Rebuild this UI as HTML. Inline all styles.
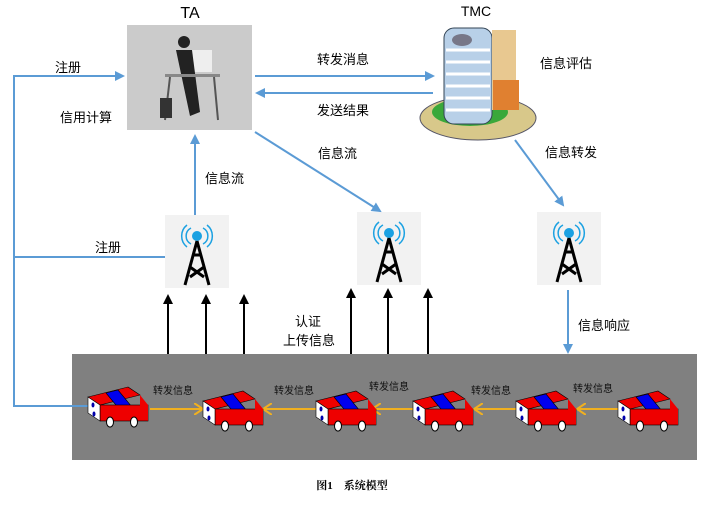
<!DOCTYPE html>
<html><head><meta charset="utf-8"><style>
body{margin:0;background:#fff;width:717px;height:518px;overflow:hidden;font-family:"Liberation Sans","Noto Sans CJK SC",sans-serif}
</style></head><body>
<svg width="717" height="518" viewBox="0 0 717 518" xmlns="http://www.w3.org/2000/svg" font-family="Liberation Sans, Noto Sans CJK SC, sans-serif">
<defs>
<marker id="b" markerWidth="10" markerHeight="10" refX="8" refY="5" orient="auto" markerUnits="userSpaceOnUse"><path d="M0,0 L10,5 L0,10 Z" fill="#5b9bd5"/></marker>
<marker id="k" markerWidth="10" markerHeight="10" refX="8" refY="5" orient="auto" markerUnits="userSpaceOnUse"><path d="M0,0 L10,5 L0,10 Z" fill="#000"/></marker>
<marker id="o" markerWidth="10" markerHeight="12" refX="9" refY="6" orient="auto" markerUnits="userSpaceOnUse"><path d="M0,0 L9,6 L0,12" fill="none" stroke="#f0b020" stroke-width="2"/></marker>
<g id="car">
<polygon points="0,10 40,0 52,8 12,18" fill="#e00" stroke="#000" stroke-width="0.6"/>
<polygon points="18,6 30,3 44,20 32,23" fill="#00e" stroke="#000" stroke-width="0.6"/>
<rect x="12" y="18" width="48" height="16" fill="#e00" stroke="#000" stroke-width="0.6"/>
<polygon points="52,8 60,18 60,34 52,24" fill="#e00"/>
<polygon points="0,10 12,18 12,34 0,26" fill="#fff" stroke="#000" stroke-width="0.6"/>
<ellipse cx="5" cy="18" rx="1.5" ry="2.5" fill="#00a"/><ellipse cx="6" cy="27" rx="1.5" ry="2.5" fill="#00a"/>
<ellipse cx="22" cy="35" rx="3.5" ry="5" fill="#fff" stroke="#000"/><ellipse cx="46" cy="35" rx="3.5" ry="5" fill="#fff" stroke="#000"/>
</g>
<g id="tw">
<rect x="0" y="0" width="64" height="73" fill="#f2f2f2"/>
<path d="M22,10 a14,14 0 0,0 0,22 M26,13 a9,9 0 0,0 0,16 M42,10 a14,14 0 0,1 0,22 M38,13 a9,9 0 0,1 0,16" fill="none" stroke="#1ba1e2" stroke-width="1.5"/>
<circle cx="32" cy="21" r="5" fill="#1ba1e2"/>
<path d="M32,26 L20,70 M32,26 L44,70 M25,52 L39,62 M39,52 L25,62 M28,40 L36,40" stroke="#000" stroke-width="3" fill="none"/>
</g>
</defs>
<!-- road -->
<rect x="72" y="354" width="625" height="106" fill="#808080"/>
<!-- TA -->
<text x="190" y="18" font-size="16" text-anchor="middle">TA</text>
<rect x="127" y="25" width="125" height="105" fill="#cbcbcb"/>
<rect x="192" y="50" width="20" height="22" fill="#eee"/>
<circle cx="184" cy="42" r="6" fill="#222"/>
<path d="M176,50 L192,50 L200,112 L190,116 Z" fill="#222"/>
<rect x="165" y="74" width="55" height="3" fill="#888"/>
<path d="M170,77 L165,120 M214,77 L218,120" stroke="#555" stroke-width="2"/>
<rect x="160" y="98" width="12" height="20" fill="#333"/>
<!-- TMC -->
<text x="476" y="16" font-size="14" text-anchor="middle">TMC</text>
<ellipse cx="478" cy="118" rx="58" ry="22" fill="#d8c88a" stroke="#556" />
<ellipse cx="470" cy="112" rx="38" ry="14" fill="#3aa83a"/>
<rect x="444" y="28" width="48" height="96" rx="10" fill="#b8d0e8" stroke="#345"/>
<g stroke="#fff" stroke-width="3"><line x1="446" y1="50" x2="490" y2="50"/><line x1="446" y1="62" x2="490" y2="62"/><line x1="446" y1="74" x2="490" y2="74"/><line x1="446" y1="86" x2="490" y2="86"/><line x1="446" y1="98" x2="490" y2="98"/><line x1="446" y1="110" x2="490" y2="110"/></g>
<rect x="492" y="30" width="24" height="80" fill="#e8c890"/>
<ellipse cx="462" cy="40" rx="10" ry="6" fill="#778"/>
<rect x="493" y="80" width="26" height="30" fill="#e08030"/>
<!-- top arrows -->
<line x1="255" y1="76" x2="433" y2="76" stroke="#5b9bd5" stroke-width="2" marker-end="url(#b)"/>
<line x1="433" y1="93" x2="257" y2="93" stroke="#5b9bd5" stroke-width="2" marker-end="url(#b)"/>
<text x="343" y="64" font-size="13" text-anchor="middle">转发消息</text>
<text x="343" y="115" font-size="13" text-anchor="middle">发送结果</text>
<text x="540" y="68" font-size="13">信息评估</text>
<!-- left lines -->
<polyline points="90,406 14,406 14,76 123,76" fill="none" stroke="#5b9bd5" stroke-width="2" marker-end="url(#b)"/>
<line x1="14" y1="257" x2="195" y2="257" stroke="#5b9bd5" stroke-width="2"/>
<text x="55" y="72" font-size="13">注册</text>
<text x="60" y="122" font-size="13">信用计算</text>
<text x="95" y="252" font-size="13">注册</text>
<!-- towers -->
<use href="#tw" x="165" y="215"/>
<use href="#tw" x="357" y="212"/>
<use href="#tw" x="537" y="212"/>
<line x1="195" y1="215" x2="195" y2="136" stroke="#5b9bd5" stroke-width="2" marker-end="url(#b)"/>
<text x="205" y="183" font-size="13">信息流</text>
<line x1="255" y1="132" x2="380" y2="211" stroke="#5b9bd5" stroke-width="2" marker-end="url(#b)"/>
<text x="318" y="158" font-size="13">信息流</text>
<line x1="515" y1="140" x2="563" y2="205" stroke="#5b9bd5" stroke-width="2" marker-end="url(#b)"/>
<text x="545" y="157" font-size="13">信息转发</text>
<line x1="568" y1="290" x2="568" y2="352" stroke="#5b9bd5" stroke-width="2" marker-end="url(#b)"/>
<text x="578" y="330" font-size="13">信息响应</text>
<!-- black arrows -->
<g stroke="#000" stroke-width="2" marker-end="url(#k)">
<line x1="168" y1="354" x2="168" y2="296"/><line x1="206" y1="354" x2="206" y2="296"/><line x1="244" y1="354" x2="244" y2="296"/>
<line x1="351" y1="354" x2="351" y2="290"/><line x1="388" y1="354" x2="388" y2="290"/><line x1="428" y1="354" x2="428" y2="290"/>
</g>
<text x="295" y="326" font-size="13">认证</text>
<text x="283" y="345" font-size="13">上传信息</text>
<!-- cars -->
<g stroke="#f0b020" stroke-width="2">
<line x1="150" y1="409" x2="203" y2="409" marker-end="url(#o)"/>
<line x1="316" y1="409" x2="263" y2="409" marker-end="url(#o)"/>
<line x1="413" y1="409" x2="372" y2="409" marker-end="url(#o)"/>
<line x1="516" y1="409" x2="474" y2="409" marker-end="url(#o)"/>
<line x1="618" y1="409" x2="577" y2="409" marker-end="url(#o)"/>
</g>
<use href="#car" x="88" y="387"/><use href="#car" x="203" y="391"/><use href="#car" x="316" y="391"/><use href="#car" x="413" y="391"/><use href="#car" x="516" y="391"/><use href="#car" x="618" y="391"/>
<g font-size="10" fill="#111">
<text x="153" y="394">转发信息</text><text x="274" y="394">转发信息</text><text x="369" y="390">转发信息</text><text x="471" y="394">转发信息</text><text x="573" y="392">转发信息</text>
</g>
<text x="352" y="489" font-size="11" font-weight="bold" text-anchor="middle" font-family="Liberation Serif, Noto Serif CJK SC, serif">图1　系统模型</text>
</svg>
</body></html>
